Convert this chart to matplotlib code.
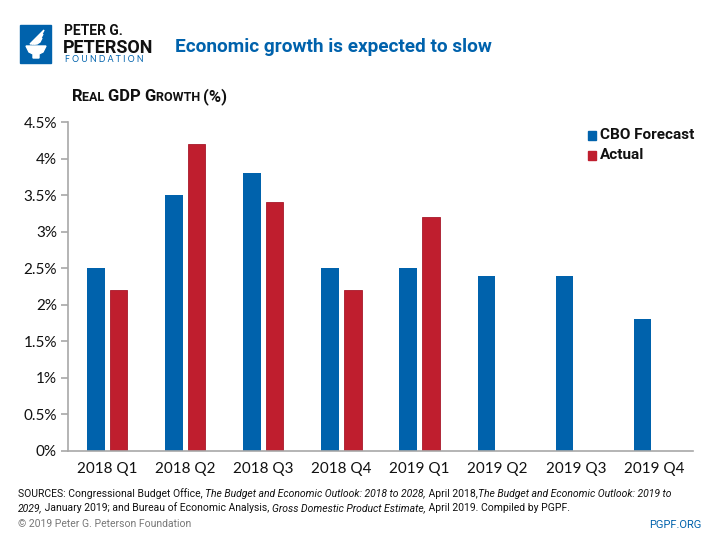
import matplotlib
matplotlib.use("Agg")
import matplotlib.pyplot as plt
from matplotlib.patches import Rectangle, Polygon
import numpy as np

# data
quarters = ["2018 Q1", "2018 Q2", "2018 Q3", "2018 Q4",
            "2019 Q1", "2019 Q2", "2019 Q3", "2019 Q4"]
cbo_forecast = [2.5, 3.5, 3.8, 2.5, 2.5, 2.4, 2.4, 1.8]
actual = [2.2, 4.2, 3.4, 2.2, 3.2, None, None, None]
yticks = [0, 0.5, 1, 1.5, 2, 2.5, 3, 3.5, 4, 4.5]

BLUE = "#0062AC"
RED = "#BF1E2E"
GRAY = "#A8A8A8"
W, H = 720, 540

narrow = ["Liberation Sans Narrow", "Roboto", "DejaVu Sans"]
body = ["Lato", "DejaVu Sans"]

fig = plt.figure(figsize=(7.2, 5.4), dpi=100)


def px(x, y):
    return x / W, 1 - y / H


ax = fig.add_axes([68 / W, 1 - 451 / H, (693 - 68) / W, (451 - 122) / H])
x = np.arange(len(quarters))
off = 0.145
bw = 0.225
ax.bar(x - off, cbo_forecast, bw, color=BLUE, label="CBO Forecast")
act_x = [xi + off for xi, v in zip(x, actual) if v is not None]
act_v = [v for v in actual if v is not None]
ax.bar(act_x, act_v, bw, color=RED, edgecolor="#A8182A", linewidth=0.6, label="Actual")

ax.set_xlim(-0.5, len(quarters) - 0.5)
ax.set_ylim(0, 4.5)
ax.set_yticks(yticks)
ax.set_yticklabels(["{:g}%".format(v) for v in yticks], fontsize=11, family=body)
ax.set_xticks(x)
ax.set_xticklabels(quarters, fontsize=11, family=body)
for s in ["top", "right"]:
    ax.spines[s].set_visible(False)
ax.spines["left"].set_color(GRAY)
ax.spines["bottom"].set_color(GRAY)
ax.spines["left"].set_linewidth(1.2)
ax.spines["bottom"].set_linewidth(1.2)
ax.tick_params(axis="y", length=5, color=GRAY, width=1.2, pad=3, labelcolor="#111111")
ax.tick_params(axis="x", length=0, pad=8, labelcolor="#111111")

# legend (manual squares)
for i, (lab, c) in enumerate([("CBO Forecast", BLUE), ("Actual", RED)]):
    yy = 135 + i * 20
    fig.patches.append(Rectangle(px(588, yy + 5), 8 / W, 9 / H, color=c,
                                 transform=fig.transFigure, figure=fig))
    fig.text(*px(600, yy), lab, fontsize=11, fontweight="bold", family=narrow,
             va="center", ha="left", color="#111111")

renderer = fig.canvas.get_renderer()


def seq_text(x0, y, pieces, **kw):
    # draw text pieces one after another on a baseline
    xx = x0
    for txt, extra in pieces:
        opts = dict(kw)
        opts.update(extra)
        t = fig.text(*px(xx, y), txt, va="baseline", ha="left", **opts)
        bb = t.get_window_extent(renderer=renderer)
        xx += bb.width
    return xx


# y axis title in small caps
sc = [("R", {"fontsize": 12}), ("EAL ", {"fontsize": 9}),
      ("GDP ", {"fontsize": 12}), ("G", {"fontsize": 12}),
      ("ROWTH ", {"fontsize": 9}), ("(%)", {"fontsize": 12})]
seq_text(72, 101, sc, fontweight="bold", family=narrow, color="#111111")

# header logo
fig.patches.append(Rectangle(px(20, 63), 31 / W, 38 / H, color=BLUE,
                             transform=fig.transFigure, figure=fig))
cup = [(26, 46), (46, 46), (43, 52), (39, 54), (39, 58), (33, 58), (33, 54), (29, 52)]
fig.patches.append(Polygon([px(a, b) for a, b in cup], closed=True, color="white",
                           transform=fig.transFigure, figure=fig))
for k in range(3):
    fl = [(30 + k * 2, 44), (44 - k, 30 + k * 4), (42 - k, 34 + k * 4), (33 + k * 2, 44)]
    fig.patches.append(Polygon([px(a, b) for a, b in fl], closed=True, color="white",
                               transform=fig.transFigure, figure=fig))

fig.text(*px(64, 35), "PETER G.", fontsize=10, fontweight="bold", family=narrow,
         va="baseline", color="#111111")
fig.text(*px(63, 53), "PETERSON", fontsize=13, fontweight="bold", family=narrow,
         va="baseline", color="#111111")
fig.text(*px(65, 62.5), "F O U N D A T I O N", fontsize=6.3, family=body,
         va="baseline", ha="left", color=BLUE)

fig.text(*px(175, 52.5), "Economic growth is expected to slow", fontsize=13.7,
         fontweight="bold", family=narrow, va="baseline", color=BLUE)

# sources
it = {"style": "italic"}
no = {}
seq_text(18, 497, [("SOURCES: Congressional Budget Office, ", no),
                   ("The Budget and Economic Outlook: 2018 to 2028,", it),
                   (" April 2018,", no),
                   ("The Budget and Economic Outlook: 2019 to", it)],
         fontsize=7.5, family=narrow, color="#111111")
seq_text(18, 511, [("2029,", it),
                   (" January 2019; and Bureau of Economic Analysis, ", no),
                   ("Gross Domestic Product Estimate,", it),
                   (" April 2019. Compiled by PGPF.", no)],
         fontsize=7.5, family=narrow, color="#111111")

fig.text(*px(18, 527), "\u00a9 2019 Peter G. Peterson Foundation", fontsize=7.5,
         family=narrow, va="baseline", color="#777777")
fig.text(*px(701, 528), "PGPF.ORG", fontsize=8, family=narrow, va="baseline",
         ha="right", color=BLUE)

fig.savefig("out.png", dpi=100)
